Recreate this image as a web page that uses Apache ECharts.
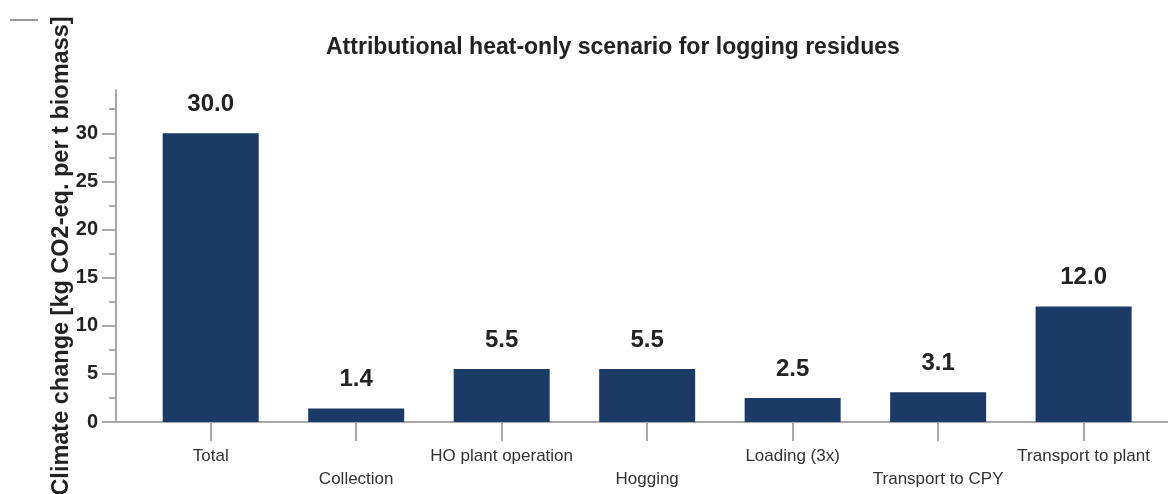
<!DOCTYPE html>
<html>
<head>
<meta charset="utf-8">
<script src="https://cdn.jsdelivr.net/npm/echarts@6/dist/echarts.min.js"></script>
<style>
    html, body { margin: 0; padding: 0; background: #fff; }
    #chart { width: 1168px; height: 494px; }
</style>
</head>
<body>
<div id="chart"></div>
<script>
// chart data
const categories = ['Total', 'Collection', 'HO plant operation', 'Hogging', 'Loading (3x)', 'Transport to CPY', 'Transport to plant'];
const values = [30.0, 1.4, 5.5, 5.5, 2.5, 3.1, 12.0];
const majorTicks = [0, 5, 10, 15, 20, 25, 30];
const minorTicks = [2.5, 7.5, 12.5, 17.5, 22.5, 27.5, 32.5];
const categoryTicks = [0, 1, 2, 3, 4, 5, 6];

const font = '"Liberation Sans", Arial, Helvetica, sans-serif';
const axisGrey = '#a8a8a8';
const barColor = '#1b3a66';

const eChart = echarts.init(document.getElementById('chart'));

let ChartOption = {
    animation: false,
    title: {
        text: 'Attributional heat-only scenario for logging residues',
        left: 321,
        top: 31,
        textStyle: {
            fontFamily: font,
            fontSize: 23,
            fontWeight: 'bold',
            color: '#222'
        }
    },
    legend: {
        left: 5,
        top: 14,
        itemWidth: 28,
        itemHeight: 2,
        data: [{name: ' ', icon: 'rect'}],
        textStyle: {fontSize: 1}
    },
    grid: {
        left: 116,
        right: 0,
        top: 90,
        bottom: 72,
        outerBoundsMode: 'none'
    },
    xAxis: {
        type: 'value',
        min: -0.651,
        max: 6.58,
        splitLine: {show: false},
        axisLine: {show: true, onZero: false, lineStyle: {color: axisGrey, width: 2}},
        axisTick: {
            show: true,
            length: 19,
            customValues: categoryTicks,
            lineStyle: {color: axisGrey, width: 2}
        },
        axisLabel: {
            customValues: categoryTicks,
            margin: 23,
            fontFamily: font,
            fontSize: 17,
            color: '#333',
            lineHeight: 23,
            formatter: function (v) {
                let i = Math.round(v);
                return (i % 2 === 1 ? '\n' : '') + categories[i];
            }
        }
    },
    yAxis: [
        {
            type: 'value',
            min: 0,
            max: 34.5,
            splitLine: {show: false},
            axisLine: {show: true, onZero: false, lineStyle: {color: axisGrey, width: 2}},
            axisTick: {
                show: true,
                length: 14,
                customValues: majorTicks,
                lineStyle: {color: axisGrey, width: 2}
            },
            axisLabel: {
                customValues: majorTicks,
                margin: 18,
                fontFamily: font,
                fontSize: 20,
                fontWeight: 'bold',
                color: '#222'
            },
            name: 'Climate change [kg CO2-eq. per t biomass]',
            nameLocation: 'middle',
            nameGap: 42,
            nameMoveOverlap: false,
            nameTextStyle: {
                fontFamily: font,
                fontSize: 23.5,
                fontWeight: 'bold',
                color: '#222'
            }
        },
        {
            // minor ticks only
            type: 'value',
            position: 'left',
            min: 0,
            max: 34.5,
            splitLine: {show: false},
            axisLine: {show: false, onZero: false},
            axisTick: {
                show: true,
                length: 7,
                customValues: minorTicks,
                lineStyle: {color: axisGrey, width: 2}
            },
            axisLabel: {show: false}
        }
    ],
    series: [
        {
            type: 'bar',
            barWidth: 96,
            data: values.map((v, i) => [i, v]),
            itemStyle: {color: barColor},
            label: {
                show: true,
                position: 'top',
                distance: 17,
                fontFamily: font,
                fontSize: 24,
                fontWeight: 'bold',
                color: '#222',
                formatter: p => p.value[1].toFixed(1)
            }
        },
        {
            name: ' ',
            type: 'line',
            data: [],
            color: '#999'
        }
    ]
};
eChart.setOption(ChartOption, true);
</script>
</body>
</html>
